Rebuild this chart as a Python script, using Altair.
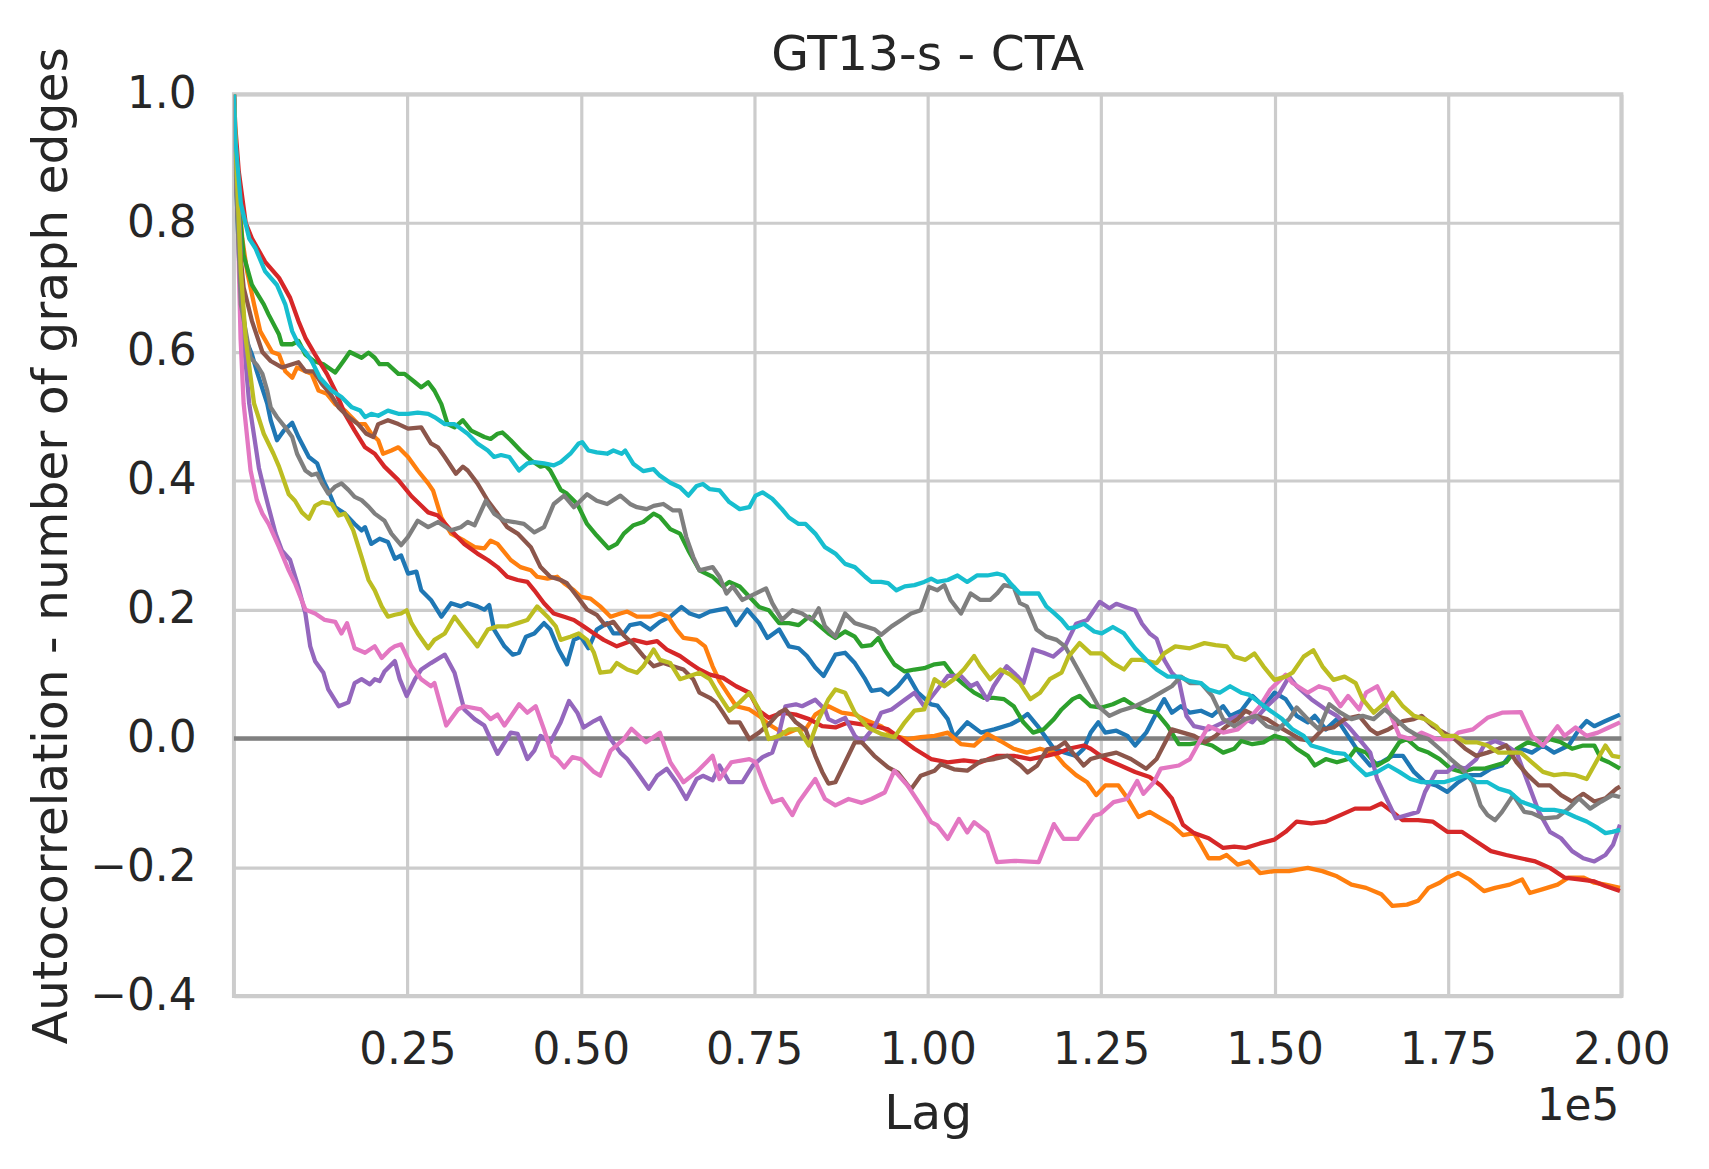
import altair as alt
import pandas as pd

TITLE = "GT13-s - CTA"
X_LABEL = "Lag"
Y_LABEL = "Autocorrelation - number of graph edges"
X_TICKS = [25000, 50000, 75000, 100000, 125000, 150000, 175000, 200000]
Y_TICKS = [-0.4, -0.2, 0.0, 0.2, 0.4, 0.6, 0.8, 1.0]

# (lag in units of 1e5, autocorrelation)
BLUE = [(0,1.0),(0.002,0.9),(0.008,0.725),(0.017,0.62),(0.026,0.596),(0.033,0.57),(0.048,0.52),(0.053,0.494),(0.062,0.463),(0.072,0.478),(0.084,0.49),(0.093,0.468),(0.108,0.437),(0.12,0.427),(0.129,0.4),(0.136,0.385),(0.146,0.359),(0.16,0.349),(0.174,0.333),(0.184,0.323),(0.189,0.328),(0.198,0.302),(0.21,0.31),(0.222,0.305),(0.232,0.279),(0.241,0.284),(0.251,0.256),(0.263,0.259),(0.27,0.23),(0.284,0.215),(0.299,0.189),(0.313,0.21),(0.327,0.205),(0.337,0.21),(0.351,0.205),(0.361,0.2),(0.368,0.207),(0.375,0.169),(0.39,0.143),(0.402,0.13),(0.411,0.133),(0.421,0.158),(0.433,0.163),(0.447,0.179),(0.456,0.169),(0.468,0.138),(0.48,0.115),(0.49,0.153),(0.5,0.158),(0.511,0.14),(0.523,0.169),(0.538,0.179),(0.547,0.163),(0.562,0.163),(0.571,0.176),(0.586,0.179),(0.6,0.169),(0.614,0.181),(0.629,0.189),(0.645,0.204),(0.657,0.194),(0.671,0.189),(0.686,0.197),(0.71,0.202),(0.724,0.176),(0.74,0.2),(0.757,0.179),(0.769,0.156),(0.786,0.169),(0.8,0.143),(0.814,0.14),(0.826,0.128),(0.838,0.11),(0.85,0.097),(0.867,0.13),(0.881,0.133),(0.895,0.117),(0.91,0.092),(0.919,0.074),(0.933,0.076),(0.943,0.068),(0.957,0.081),(0.971,0.099),(0.986,0.071),(1.005,0.053),(1.014,0.051),(1.029,0.03),(1.038,0.002),(1.057,0.025),(1.077,0.009),(1.096,0.014),(1.12,0.022),(1.134,0.03),(1.144,0.038),(1.158,0.02),(1.172,-0.001),(1.182,-0.016),(1.198,-0.022),(1.214,-0.027),(1.225,-0.016),(1.235,0.009),(1.246,0.025),(1.256,0.009),(1.272,0.012),(1.288,0.004),(1.299,-0.011),(1.315,0.009),(1.33,0.04),(1.341,0.061),(1.352,0.04),(1.365,0.05),(1.378,0.04),(1.394,0.043),(1.41,0.035),(1.426,0.05),(1.436,0.035),(1.452,0.043),(1.468,0.066),(1.484,0.05),(1.5,0.071),(1.516,0.061),(1.532,0.035),(1.548,0.025),(1.558,0.035),(1.574,0.014),(1.59,0.03),(1.606,0.004),(1.622,-0.022),(1.638,-0.042),(1.654,-0.037),(1.67,-0.027),(1.685,-0.027),(1.701,-0.052),(1.717,-0.068),(1.733,-0.073),(1.749,-0.083),(1.765,-0.068),(1.781,-0.057),(1.797,-0.057),(1.812,-0.047),(1.828,-0.042),(1.839,-0.027),(1.855,-0.016),(1.871,-0.022),(1.887,-0.011),(1.903,-0.022),(1.924,-0.011),(1.939,0.014),(1.95,0.027),(1.961,0.019),(1.977,0.027),(1.998,0.037)]

ORANGE = [(0,1.0),(0.002,0.92),(0.012,0.776),(0.019,0.725),(0.029,0.674),(0.038,0.632),(0.055,0.6),(0.065,0.596),(0.074,0.57),(0.084,0.56),(0.091,0.576),(0.103,0.57),(0.112,0.566),(0.122,0.54),(0.134,0.535),(0.146,0.519),(0.16,0.509),(0.179,0.488),(0.189,0.488),(0.198,0.473),(0.208,0.463),(0.215,0.442),(0.227,0.447),(0.237,0.452),(0.251,0.437),(0.265,0.416),(0.28,0.396),(0.287,0.385),(0.299,0.343),(0.313,0.318),(0.332,0.307),(0.347,0.297),(0.361,0.295),(0.37,0.307),(0.38,0.302),(0.399,0.277),(0.413,0.266),(0.428,0.261),(0.437,0.251),(0.452,0.248),(0.466,0.251),(0.476,0.241),(0.49,0.23),(0.5,0.22),(0.514,0.217),(0.528,0.205),(0.543,0.189),(0.557,0.194),(0.567,0.197),(0.581,0.189),(0.6,0.189),(0.614,0.194),(0.626,0.189),(0.638,0.169),(0.648,0.156),(0.667,0.153),(0.679,0.143),(0.69,0.112),(0.7,0.089),(0.714,0.066),(0.724,0.05),(0.743,0.045),(0.757,0.035),(0.771,0.022),(0.786,0.012),(0.795,0.007),(0.81,0.014),(0.824,0.014),(0.838,0.037),(0.857,0.05),(0.876,0.04),(0.895,0.037),(0.914,0.027),(0.933,0.019),(0.952,0.004),(0.971,-0.001),(0.99,0.002),(1.01,0.004),(1.029,0.009),(1.048,-0.009),(1.067,-0.011),(1.086,0.007),(1.105,-0.004),(1.124,-0.016),(1.143,-0.022),(1.162,-0.016),(1.182,-0.022),(1.198,-0.042),(1.214,-0.057),(1.23,-0.068),(1.243,-0.088),(1.256,-0.073),(1.275,-0.073),(1.288,-0.093),(1.304,-0.122),(1.32,-0.114),(1.336,-0.124),(1.352,-0.134),(1.368,-0.15),(1.384,-0.147),(1.394,-0.165),(1.405,-0.186),(1.421,-0.186),(1.431,-0.181),(1.447,-0.196),(1.463,-0.191),(1.479,-0.209),(1.5,-0.206),(1.521,-0.206),(1.548,-0.201),(1.569,-0.206),(1.59,-0.214),(1.611,-0.227),(1.632,-0.232),(1.654,-0.242),(1.67,-0.26),(1.691,-0.258),(1.707,-0.252),(1.722,-0.232),(1.738,-0.224),(1.749,-0.216),(1.765,-0.209),(1.781,-0.219),(1.802,-0.237),(1.818,-0.232),(1.839,-0.227),(1.857,-0.219),(1.868,-0.24),(1.887,-0.234),(1.908,-0.227),(1.924,-0.216),(1.945,-0.216),(1.961,-0.224),(1.977,-0.227),(1.998,-0.232)]

GREEN = [(0,1.0),(0.002,0.92),(0.007,0.83),(0.014,0.75),(0.026,0.704),(0.043,0.674),(0.05,0.658),(0.065,0.627),(0.069,0.612),(0.084,0.612),(0.093,0.617),(0.103,0.596),(0.115,0.586),(0.129,0.581),(0.146,0.568),(0.158,0.586),(0.167,0.6),(0.184,0.591),(0.194,0.599),(0.203,0.591),(0.21,0.581),(0.222,0.581),(0.237,0.566),(0.246,0.566),(0.261,0.553),(0.27,0.545),(0.28,0.553),(0.289,0.54),(0.299,0.519),(0.308,0.488),(0.318,0.483),(0.33,0.494),(0.342,0.478),(0.361,0.468),(0.37,0.465),(0.38,0.473),(0.387,0.475),(0.399,0.463),(0.413,0.447),(0.428,0.432),(0.442,0.422),(0.449,0.424),(0.456,0.416),(0.471,0.386),(0.48,0.38),(0.495,0.364),(0.509,0.333),(0.523,0.315),(0.54,0.295),(0.552,0.302),(0.562,0.318),(0.576,0.331),(0.59,0.336),(0.605,0.349),(0.614,0.344),(0.629,0.325),(0.643,0.318),(0.655,0.292),(0.671,0.261),(0.69,0.251),(0.705,0.236),(0.714,0.243),(0.729,0.236),(0.743,0.22),(0.757,0.204),(0.771,0.199),(0.786,0.179),(0.8,0.179),(0.814,0.176),(0.829,0.189),(0.843,0.176),(0.857,0.163),(0.867,0.156),(0.881,0.166),(0.895,0.158),(0.905,0.143),(0.919,0.145),(0.929,0.156),(0.938,0.138),(0.952,0.115),(0.967,0.104),(0.981,0.107),(0.995,0.109),(1.01,0.115),(1.024,0.117),(1.038,0.097),(1.052,0.084),(1.067,0.071),(1.081,0.063),(1.095,0.063),(1.11,0.061),(1.124,0.05),(1.138,0.025),(1.152,0.009),(1.167,0.014),(1.182,0.03),(1.193,0.045),(1.209,0.061),(1.219,0.066),(1.235,0.05),(1.251,0.048),(1.267,0.053),(1.283,0.061),(1.299,0.05),(1.315,0.043),(1.33,0.04),(1.346,0.019),(1.362,-0.009),(1.378,-0.009),(1.394,-0.006),(1.41,-0.011),(1.426,-0.022),(1.442,-0.016),(1.452,-0.004),(1.468,-0.009),(1.484,-0.006),(1.5,0.004),(1.516,-0.001),(1.532,-0.016),(1.548,-0.027),(1.558,-0.042),(1.574,-0.032),(1.59,-0.037),(1.606,-0.032),(1.617,-0.016),(1.632,-0.022),(1.648,-0.042),(1.664,-0.032),(1.68,-0.006),(1.691,-0.001),(1.707,-0.016),(1.722,-0.022),(1.738,-0.032),(1.754,-0.047),(1.77,-0.052),(1.786,-0.047),(1.802,-0.047),(1.818,-0.042),(1.834,-0.037),(1.849,-0.016),(1.865,-0.006),(1.881,-0.011),(1.897,-0.001),(1.913,-0.006),(1.929,-0.016),(1.945,-0.011),(1.961,-0.011),(1.971,-0.032),(1.982,-0.037),(1.998,-0.047)]

RED = [(0,1.0),(0.002,0.95),(0.007,0.88),(0.017,0.8),(0.026,0.776),(0.045,0.74),(0.065,0.715),(0.081,0.684),(0.093,0.648),(0.103,0.622),(0.117,0.596),(0.134,0.566),(0.146,0.54),(0.16,0.504),(0.174,0.478),(0.189,0.452),(0.203,0.442),(0.217,0.422),(0.237,0.401),(0.256,0.376),(0.28,0.351),(0.294,0.346),(0.313,0.323),(0.332,0.302),(0.351,0.287),(0.366,0.277),(0.38,0.266),(0.394,0.251),(0.409,0.246),(0.423,0.243),(0.433,0.23),(0.447,0.21),(0.461,0.194),(0.476,0.189),(0.49,0.184),(0.504,0.174),(0.519,0.163),(0.533,0.153),(0.552,0.143),(0.576,0.153),(0.595,0.148),(0.61,0.151),(0.624,0.138),(0.643,0.128),(0.657,0.117),(0.671,0.107),(0.686,0.099),(0.705,0.094),(0.724,0.081),(0.743,0.071),(0.757,0.043),(0.771,0.032),(0.79,0.04),(0.81,0.037),(0.829,0.03),(0.848,0.019),(0.867,0.017),(0.886,0.025),(0.905,0.022),(0.924,0.019),(0.943,0.014),(0.962,-0.001),(0.981,-0.016),(1.005,-0.032),(1.029,-0.037),(1.052,-0.034),(1.076,-0.037),(1.1,-0.027),(1.124,-0.027),(1.148,-0.032),(1.171,-0.027),(1.19,-0.022),(1.203,-0.016),(1.225,-0.011),(1.235,-0.016),(1.256,-0.032),(1.278,-0.042),(1.299,-0.052),(1.32,-0.06),(1.336,-0.073),(1.352,-0.093),(1.368,-0.134),(1.384,-0.147),(1.405,-0.155),(1.426,-0.17),(1.442,-0.168),(1.458,-0.17),(1.479,-0.163),(1.5,-0.157),(1.516,-0.145),(1.532,-0.129),(1.553,-0.132),(1.574,-0.129),(1.595,-0.119),(1.616,-0.109),(1.638,-0.109),(1.654,-0.101),(1.67,-0.114),(1.685,-0.127),(1.707,-0.127),(1.728,-0.129),(1.749,-0.145),(1.77,-0.145),(1.791,-0.16),(1.812,-0.175),(1.834,-0.181),(1.855,-0.186),(1.876,-0.191),(1.897,-0.201),(1.918,-0.216),(1.939,-0.219),(1.961,-0.222),(1.977,-0.229),(1.998,-0.237)]

PURPLE = [(0,1.0),(0.002,0.9),(0.007,0.83),(0.014,0.62),(0.022,0.52),(0.036,0.42),(0.045,0.38),(0.05,0.359),(0.06,0.318),(0.069,0.292),(0.081,0.277),(0.093,0.235),(0.103,0.194),(0.11,0.143),(0.117,0.12),(0.129,0.102),(0.136,0.076),(0.151,0.05),(0.165,0.056),(0.174,0.086),(0.184,0.092),(0.196,0.084),(0.203,0.092),(0.21,0.089),(0.217,0.104),(0.232,0.12),(0.239,0.092),(0.249,0.066),(0.261,0.092),(0.27,0.107),(0.284,0.117),(0.304,0.13),(0.318,0.102),(0.332,0.045),(0.347,0.03),(0.361,0.02),(0.37,-0.001),(0.38,-0.024),(0.399,0.009),(0.409,0.007),(0.423,-0.032),(0.433,-0.019),(0.442,0.004),(0.456,-0.006),(0.471,0.025),(0.483,0.058),(0.495,0.04),(0.504,0.017),(0.519,0.027),(0.528,0.032),(0.543,-0.001),(0.557,-0.022),(0.567,-0.032),(0.581,-0.052),(0.598,-0.078),(0.61,-0.058),(0.624,-0.047),(0.638,-0.068),(0.652,-0.094),(0.667,-0.063),(0.676,-0.058),(0.69,-0.065),(0.7,-0.042),(0.714,-0.068),(0.733,-0.068),(0.748,-0.042),(0.762,-0.029),(0.776,-0.022),(0.786,0.009),(0.795,0.05),(0.81,0.053),(0.819,0.05),(0.838,0.06),(0.852,0.045),(0.857,0.03),(0.867,0.025),(0.881,0.032),(0.895,0.004),(0.905,-0.006),(0.924,0.019),(0.933,0.04),(0.948,0.045),(0.967,0.06),(0.981,0.071),(0.995,0.05),(1.014,0.076),(1.029,0.097),(1.048,0.097),(1.062,0.081),(1.071,0.086),(1.086,0.06),(1.095,0.081),(1.114,0.112),(1.129,0.097),(1.138,0.086),(1.152,0.138),(1.167,0.133),(1.181,0.127),(1.198,0.143),(1.214,0.178),(1.23,0.184),(1.248,0.212),(1.262,0.202),(1.272,0.209),(1.288,0.203),(1.299,0.199),(1.309,0.178),(1.32,0.163),(1.33,0.155),(1.341,0.122),(1.352,0.102),(1.362,0.091),(1.373,0.035),(1.384,0.019),(1.405,0.014),(1.426,0.025),(1.447,0.035),(1.468,0.025),(1.489,0.05),(1.505,0.066),(1.521,0.096),(1.532,0.081),(1.553,0.061),(1.574,0.045),(1.59,0.035),(1.606,0.019),(1.622,-0.001),(1.638,-0.022),(1.648,-0.063),(1.659,-0.088),(1.675,-0.124),(1.691,-0.119),(1.707,-0.114),(1.717,-0.083),(1.733,-0.052),(1.749,-0.052),(1.76,-0.042),(1.775,-0.047),(1.791,-0.032),(1.802,-0.011),(1.818,-0.004),(1.834,-0.011),(1.849,-0.022),(1.865,-0.068),(1.881,-0.114),(1.897,-0.145),(1.913,-0.155),(1.929,-0.175),(1.945,-0.186),(1.961,-0.191),(1.977,-0.181),(1.988,-0.165),(1.998,-0.134)]

BROWN = [(0,1.0),(0.002,0.9),(0.007,0.776),(0.014,0.7),(0.026,0.648),(0.041,0.6),(0.053,0.586),(0.069,0.576),(0.084,0.581),(0.093,0.584),(0.103,0.57),(0.115,0.57),(0.127,0.55),(0.139,0.535),(0.151,0.514),(0.165,0.499),(0.179,0.488),(0.191,0.473),(0.201,0.468),(0.208,0.488),(0.222,0.494),(0.237,0.488),(0.251,0.481),(0.27,0.483),(0.284,0.458),(0.294,0.452),(0.304,0.437),(0.32,0.411),(0.33,0.422),(0.337,0.416),(0.351,0.396),(0.366,0.369),(0.38,0.349),(0.394,0.328),(0.409,0.318),(0.428,0.297),(0.442,0.266),(0.456,0.251),(0.471,0.246),(0.48,0.241),(0.495,0.22),(0.509,0.2),(0.523,0.192),(0.535,0.176),(0.547,0.181),(0.562,0.16),(0.576,0.146),(0.59,0.128),(0.605,0.112),(0.619,0.117),(0.633,0.112),(0.648,0.107),(0.662,0.092),(0.671,0.071),(0.686,0.063),(0.695,0.056),(0.705,0.04),(0.714,0.025),(0.729,0.025),(0.743,-0.001),(0.757,0.009),(0.771,0.022),(0.786,0.04),(0.795,0.045),(0.81,0.025),(0.824,0.014),(0.838,-0.027),(0.848,-0.052),(0.857,-0.07),(0.867,-0.068),(0.881,-0.037),(0.895,-0.006),(0.905,-0.006),(0.923,-0.027),(0.943,-0.045),(0.957,-0.053),(0.976,-0.079),(0.99,-0.058),(1.01,-0.05),(1.019,-0.04),(1.038,-0.048),(1.057,-0.05),(1.077,-0.035),(1.096,-0.032),(1.115,-0.027),(1.134,-0.042),(1.144,-0.053),(1.158,-0.042),(1.172,-0.017),(1.187,-0.014),(1.198,-0.006),(1.209,-0.022),(1.225,-0.042),(1.235,-0.032),(1.251,-0.027),(1.272,-0.022),(1.293,-0.032),(1.315,-0.047),(1.33,-0.032),(1.352,0.014),(1.368,0.009),(1.384,0.004),(1.4,-0.006),(1.415,0.004),(1.431,0.019),(1.447,0.03),(1.458,0.043),(1.473,0.035),(1.489,0.03),(1.505,0.019),(1.521,0.009),(1.537,-0.001),(1.553,-0.004),(1.569,0.014),(1.585,0.017),(1.601,0.03),(1.622,0.035),(1.638,0.014),(1.648,0.007),(1.664,0.014),(1.685,0.027),(1.701,0.03),(1.712,0.035),(1.728,0.019),(1.744,0.009),(1.76,-0.001),(1.775,-0.016),(1.791,-0.027),(1.807,-0.022),(1.823,-0.016),(1.834,-0.011),(1.849,-0.037),(1.865,-0.057),(1.881,-0.073),(1.897,-0.073),(1.913,-0.088),(1.929,-0.098),(1.945,-0.086),(1.961,-0.098),(1.977,-0.093),(1.993,-0.078),(1.998,-0.075)]

PINK = [(0,1.0),(0.002,0.88),(0.0057,0.83),(0.0072,0.725),(0.0096,0.62),(0.014,0.52),(0.024,0.416),(0.033,0.37),(0.041,0.349),(0.05,0.333),(0.065,0.297),(0.079,0.261),(0.088,0.241),(0.103,0.2),(0.117,0.194),(0.131,0.184),(0.146,0.181),(0.155,0.163),(0.163,0.179),(0.174,0.14),(0.189,0.133),(0.203,0.143),(0.213,0.125),(0.225,0.138),(0.232,0.143),(0.241,0.146),(0.256,0.112),(0.27,0.092),(0.284,0.081),(0.289,0.086),(0.306,0.02),(0.323,0.045),(0.332,0.05),(0.356,0.045),(0.37,0.03),(0.38,0.037),(0.39,0.02),(0.411,0.053),(0.423,0.04),(0.435,0.05),(0.447,0.014),(0.459,-0.027),(0.466,-0.032),(0.476,-0.045),(0.488,-0.029),(0.5,-0.032),(0.519,-0.052),(0.528,-0.058),(0.543,-0.019),(0.562,-0.001),(0.573,0.015),(0.594,-0.006),(0.614,0.009),(0.629,-0.037),(0.648,-0.068),(0.667,-0.052),(0.681,-0.037),(0.69,-0.027),(0.7,-0.063),(0.717,-0.037),(0.743,-0.032),(0.752,-0.037),(0.767,-0.078),(0.776,-0.099),(0.79,-0.094),(0.805,-0.119),(0.814,-0.099),(0.838,-0.063),(0.852,-0.094),(0.867,-0.104),(0.886,-0.094),(0.905,-0.1),(0.919,-0.094),(0.938,-0.084),(0.952,-0.05),(0.971,-0.073),(0.99,-0.104),(1.005,-0.13),(1.014,-0.135),(1.029,-0.156),(1.045,-0.125),(1.057,-0.146),(1.067,-0.13),(1.086,-0.146),(1.1,-0.192),(1.125,-0.19),(1.16,-0.192),(1.182,-0.133),(1.196,-0.156),(1.216,-0.156),(1.24,-0.12),(1.249,-0.117),(1.268,-0.099),(1.287,-0.094),(1.302,-0.066),(1.311,-0.086),(1.326,-0.068),(1.336,-0.047),(1.362,-0.042),(1.378,-0.032),(1.394,-0.001),(1.405,0.019),(1.426,0.009),(1.447,0.014),(1.463,0.03),(1.479,0.05),(1.494,0.076),(1.516,0.099),(1.526,0.086),(1.548,0.071),(1.564,0.081),(1.579,0.076),(1.595,0.05),(1.606,0.066),(1.622,0.045),(1.632,0.071),(1.648,0.081),(1.664,0.045),(1.68,0.004),(1.696,-0.001),(1.712,0.009),(1.733,-0.001),(1.754,-0.001),(1.765,0.009),(1.786,0.014),(1.807,0.032),(1.828,0.04),(1.855,0.041),(1.871,0.004),(1.887,-0.011),(1.908,0.019),(1.918,0.004),(1.934,0.017),(1.95,0.004),(1.966,0.009),(1.982,0.017),(1.998,0.025)]

GRAY = [(0,1.0),(0.002,0.9),(0.01,0.674),(0.024,0.591),(0.033,0.58),(0.041,0.566),(0.048,0.54),(0.053,0.514),(0.062,0.499),(0.074,0.483),(0.084,0.468),(0.091,0.442),(0.103,0.416),(0.112,0.409),(0.12,0.411),(0.127,0.396),(0.136,0.38),(0.146,0.391),(0.155,0.396),(0.165,0.386),(0.174,0.375),(0.184,0.37),(0.194,0.36),(0.203,0.349),(0.217,0.338),(0.227,0.318),(0.241,0.3),(0.251,0.313),(0.265,0.338),(0.28,0.328),(0.294,0.336),(0.313,0.323),(0.327,0.328),(0.337,0.336),(0.347,0.331),(0.363,0.369),(0.375,0.349),(0.39,0.338),(0.404,0.336),(0.418,0.333),(0.433,0.32),(0.447,0.328),(0.461,0.364),(0.476,0.377),(0.49,0.359),(0.509,0.379),(0.523,0.369),(0.538,0.364),(0.557,0.377),(0.571,0.364),(0.581,0.359),(0.595,0.356),(0.605,0.361),(0.619,0.364),(0.633,0.354),(0.643,0.354),(0.652,0.313),(0.662,0.282),(0.671,0.261),(0.69,0.266),(0.7,0.251),(0.71,0.225),(0.719,0.236),(0.733,0.215),(0.748,0.223),(0.767,0.233),(0.776,0.21),(0.79,0.184),(0.805,0.199),(0.819,0.194),(0.833,0.184),(0.843,0.202),(0.852,0.174),(0.867,0.158),(0.881,0.194),(0.895,0.179),(0.91,0.174),(0.924,0.169),(0.933,0.161),(0.948,0.174),(0.962,0.184),(0.976,0.194),(0.99,0.199),(1.002,0.235),(1.014,0.23),(1.024,0.238),(1.033,0.215),(1.048,0.194),(1.062,0.225),(1.076,0.215),(1.09,0.215),(1.1,0.225),(1.11,0.238),(1.124,0.235),(1.133,0.21),(1.143,0.205),(1.157,0.169),(1.171,0.158),(1.186,0.153),(1.198,0.143),(1.214,0.112),(1.23,0.081),(1.246,0.05),(1.262,0.035),(1.278,0.043),(1.299,0.05),(1.32,0.061),(1.336,0.071),(1.352,0.081),(1.365,0.096),(1.378,0.086),(1.394,0.086),(1.41,0.066),(1.426,0.03),(1.442,0.019),(1.458,0.03),(1.473,0.035),(1.489,0.019),(1.505,0.014),(1.521,0.03),(1.532,0.048),(1.548,0.03),(1.564,0.014),(1.579,0.053),(1.595,0.04),(1.611,0.03),(1.627,0.035),(1.643,0.03),(1.659,0.045),(1.675,0.03),(1.691,0.014),(1.707,0.004),(1.722,-0.001),(1.738,-0.016),(1.754,-0.032),(1.77,-0.047),(1.786,-0.068),(1.797,-0.104),(1.807,-0.119),(1.818,-0.127),(1.828,-0.114),(1.844,-0.088),(1.86,-0.114),(1.871,-0.116),(1.887,-0.124),(1.908,-0.122),(1.924,-0.109),(1.939,-0.093),(1.955,-0.109),(1.971,-0.098),(1.987,-0.088),(1.998,-0.091)]

OLIVE = [(0,1.0),(0.004,0.88),(0.01,0.725),(0.017,0.62),(0.029,0.52),(0.043,0.473),(0.057,0.442),(0.065,0.422),(0.079,0.379),(0.088,0.369),(0.098,0.351),(0.108,0.341),(0.117,0.361),(0.127,0.367),(0.141,0.364),(0.151,0.346),(0.16,0.349),(0.172,0.323),(0.184,0.282),(0.194,0.246),(0.203,0.23),(0.213,0.205),(0.222,0.189),(0.232,0.192),(0.241,0.194),(0.249,0.199),(0.256,0.179),(0.265,0.163),(0.28,0.14),(0.289,0.153),(0.304,0.163),(0.318,0.189),(0.332,0.169),(0.351,0.143),(0.366,0.169),(0.38,0.174),(0.394,0.174),(0.409,0.179),(0.423,0.184),(0.437,0.205),(0.452,0.189),(0.464,0.174),(0.471,0.153),(0.485,0.158),(0.497,0.163),(0.509,0.153),(0.519,0.133),(0.528,0.102),(0.543,0.104),(0.552,0.117),(0.567,0.107),(0.581,0.102),(0.59,0.112),(0.605,0.138),(0.614,0.122),(0.629,0.117),(0.643,0.092),(0.657,0.097),(0.671,0.102),(0.686,0.092),(0.7,0.066),(0.714,0.043),(0.729,0.056),(0.743,0.071),(0.757,0.045),(0.771,-0.001),(0.786,0.004),(0.8,0.014),(0.814,0.014),(0.829,-0.011),(0.843,0.03),(0.857,0.061),(0.867,0.076),(0.881,0.071),(0.895,0.04),(0.914,0.017),(0.933,0.007),(0.952,0.002),(0.967,0.025),(0.981,0.043),(0.995,0.045),(1.01,0.092),(1.024,0.081),(1.038,0.092),(1.052,0.107),(1.067,0.128),(1.076,0.112),(1.09,0.092),(1.105,0.107),(1.119,0.099),(1.133,0.086),(1.148,0.061),(1.162,0.071),(1.176,0.092),(1.193,0.102),(1.203,0.127),(1.219,0.148),(1.235,0.132),(1.251,0.132),(1.267,0.117),(1.283,0.107),(1.294,0.122),(1.309,0.122),(1.33,0.117),(1.341,0.132),(1.357,0.143),(1.378,0.14),(1.399,0.148),(1.415,0.145),(1.431,0.143),(1.442,0.127),(1.458,0.122),(1.471,0.132),(1.484,0.112),(1.5,0.091),(1.516,0.096),(1.526,0.102),(1.542,0.127),(1.556,0.137),(1.569,0.112),(1.585,0.091),(1.601,0.096),(1.617,0.086),(1.627,0.061),(1.643,0.04),(1.659,0.055),(1.67,0.071),(1.685,0.05),(1.701,0.035),(1.717,0.03),(1.733,0.019),(1.744,0.004),(1.76,0.004),(1.775,-0.006),(1.791,-0.006),(1.807,-0.011),(1.823,-0.022),(1.839,-0.022),(1.855,-0.022),(1.871,-0.037),(1.887,-0.052),(1.903,-0.057),(1.918,-0.055),(1.934,-0.057),(1.95,-0.063),(1.966,-0.032),(1.977,-0.011),(1.987,-0.027),(1.998,-0.029)]

CYAN = [(0,1.0),(0.002,0.93),(0.01,0.83),(0.022,0.776),(0.031,0.761),(0.045,0.725),(0.062,0.704),(0.074,0.674),(0.084,0.632),(0.093,0.612),(0.103,0.6),(0.112,0.586),(0.124,0.56),(0.141,0.54),(0.155,0.53),(0.17,0.514),(0.182,0.509),(0.189,0.499),(0.198,0.504),(0.208,0.501),(0.222,0.509),(0.237,0.504),(0.251,0.504),(0.265,0.506),(0.28,0.504),(0.289,0.499),(0.304,0.488),(0.318,0.488),(0.337,0.473),(0.351,0.458),(0.366,0.447),(0.375,0.437),(0.385,0.44),(0.397,0.437),(0.411,0.416),(0.423,0.427),(0.433,0.429),(0.447,0.427),(0.461,0.424),(0.471,0.429),(0.485,0.442),(0.497,0.458),(0.502,0.46),(0.511,0.447),(0.523,0.444),(0.538,0.442),(0.547,0.447),(0.559,0.442),(0.564,0.447),(0.576,0.426),(0.59,0.415),(0.605,0.418),(0.614,0.408),(0.629,0.397),(0.643,0.39),(0.655,0.377),(0.667,0.392),(0.676,0.395),(0.686,0.387),(0.7,0.385),(0.714,0.367),(0.729,0.356),(0.743,0.359),(0.752,0.377),(0.762,0.382),(0.776,0.372),(0.79,0.356),(0.8,0.343),(0.814,0.333),(0.824,0.333),(0.838,0.318),(0.852,0.297),(0.867,0.287),(0.881,0.271),(0.895,0.266),(0.91,0.251),(0.919,0.243),(0.933,0.243),(0.943,0.241),(0.955,0.23),(0.967,0.236),(0.981,0.238),(0.995,0.243),(1.005,0.248),(1.014,0.243),(1.029,0.246),(1.043,0.253),(1.057,0.243),(1.071,0.253),(1.086,0.253),(1.1,0.256),(1.11,0.253),(1.119,0.241),(1.133,0.225),(1.148,0.225),(1.16,0.225),(1.171,0.205),(1.182,0.195),(1.193,0.184),(1.203,0.171),(1.214,0.173),(1.225,0.178),(1.24,0.166),(1.251,0.163),(1.267,0.173),(1.283,0.163),(1.299,0.14),(1.315,0.122),(1.33,0.107),(1.346,0.096),(1.362,0.096),(1.378,0.089),(1.394,0.086),(1.405,0.076),(1.421,0.071),(1.436,0.081),(1.452,0.071),(1.463,0.068),(1.479,0.055),(1.494,0.043),(1.511,0.03),(1.526,0.014),(1.542,0.004),(1.553,-0.011),(1.569,-0.016),(1.585,-0.022),(1.601,-0.024),(1.617,-0.042),(1.632,-0.057),(1.648,-0.052),(1.664,-0.042),(1.68,-0.052),(1.696,-0.063),(1.712,-0.068),(1.728,-0.068),(1.744,-0.068),(1.76,-0.063),(1.776,-0.057),(1.791,-0.068),(1.807,-0.068),(1.823,-0.078),(1.839,-0.083),(1.855,-0.098),(1.871,-0.104),(1.887,-0.111),(1.903,-0.111),(1.918,-0.114),(1.934,-0.122),(1.95,-0.129),(1.966,-0.139),(1.977,-0.147),(1.987,-0.145),(1.998,-0.142)]

SERIES = [BLUE, ORANGE, GREEN, RED, PURPLE, BROWN, PINK, GRAY, OLIVE, CYAN]
COLORS = ["#1f77b4", "#ff7f0e", "#2ca02c", "#d62728", "#9467bd",
          "#8c564b", "#e377c2", "#7f7f7f", "#bcbd22", "#17becf"]

FONT = "DejaVu Sans"
TEXT = "#262626"
W, H = 1394, 906
TICK_FS = 44
LABEL_FS = 49

x_enc = alt.X(
    "lag:Q",
    scale=alt.Scale(domain=[0, 200000], nice=False, zero=False),
    axis=alt.Axis(
        values=X_TICKS,
        labelExpr="format(datum.value / 100000, '.2f')",
        labelPadding=33, labelFlush=False, labelOverlap=False,
        title=X_LABEL, titleY=133, titleBaseline="alphabetic",
    ),
)
y_enc = alt.Y(
    "value:Q",
    scale=alt.Scale(domain=[-0.4, 1.0], nice=False, zero=False),
    axis=alt.Axis(
        values=Y_TICKS,
        labelExpr="replace(format(datum.value, '.1f'), '-', '\u2212')",
        labelPadding=38, labelFlush=False, labelOverlap=False,
        title=Y_LABEL, titleX=-168, titleY=H / 2, titleAngle=270,
        titleAlign="center", titleBaseline="alphabetic",
    ),
)

zero = alt.Chart(pd.DataFrame({"value": [0.0]})).mark_rule(
    color="#808080", strokeWidth=4.6
).encode(y=y_enc)

layers = [zero]
for pts, col in zip(SERIES, COLORS):
    df = pd.DataFrame({"lag": [p[0] * 1e5 for p in pts], "value": [p[1] for p in pts]})
    layers.append(
        alt.Chart(df).mark_line(color=col, strokeWidth=4.3, strokeJoin="round", clip=True)
        .encode(x=x_enc, y=y_enc)
    )

texts = pd.DataFrame({"t": ["1e5", TITLE]})
offset_txt = alt.Chart(texts).transform_filter(alt.datum.t == "1e5").mark_text(
    align="right", baseline="alphabetic", font=FONT, fontSize=TICK_FS, color=TEXT
).encode(x=alt.value(W - 2), y=alt.value(H + 125), text="t:N")
title_txt = alt.Chart(texts).transform_filter(alt.datum.t == TITLE).mark_text(
    align="center", baseline="alphabetic", font=FONT, fontSize=LABEL_FS, color=TEXT
).encode(x=alt.value(W / 2), y=alt.value(-24), text="t:N")
layers += [offset_txt, title_txt]

chart = alt.layer(*layers).properties(
    width=W, height=H,
    background="white",
    autosize=alt.AutoSizeParams(type="none"),
    padding={"left": 227, "top": 84, "right": 80, "bottom": 171},
).configure_view(
    stroke="#cccccc", strokeWidth=4
).configure_axis(
    grid=True, gridColor="#cccccc", gridWidth=3.2, domain=False, ticks=False, tickSize=0,
    labelFont=FONT, labelFontSize=TICK_FS, labelColor=TEXT,
    titleFont=FONT, titleFontSize=LABEL_FS, titleColor=TEXT, titleFontWeight="normal",
)

chart.save("out.html", embed_options={"renderer": "svg", "actions": False})
